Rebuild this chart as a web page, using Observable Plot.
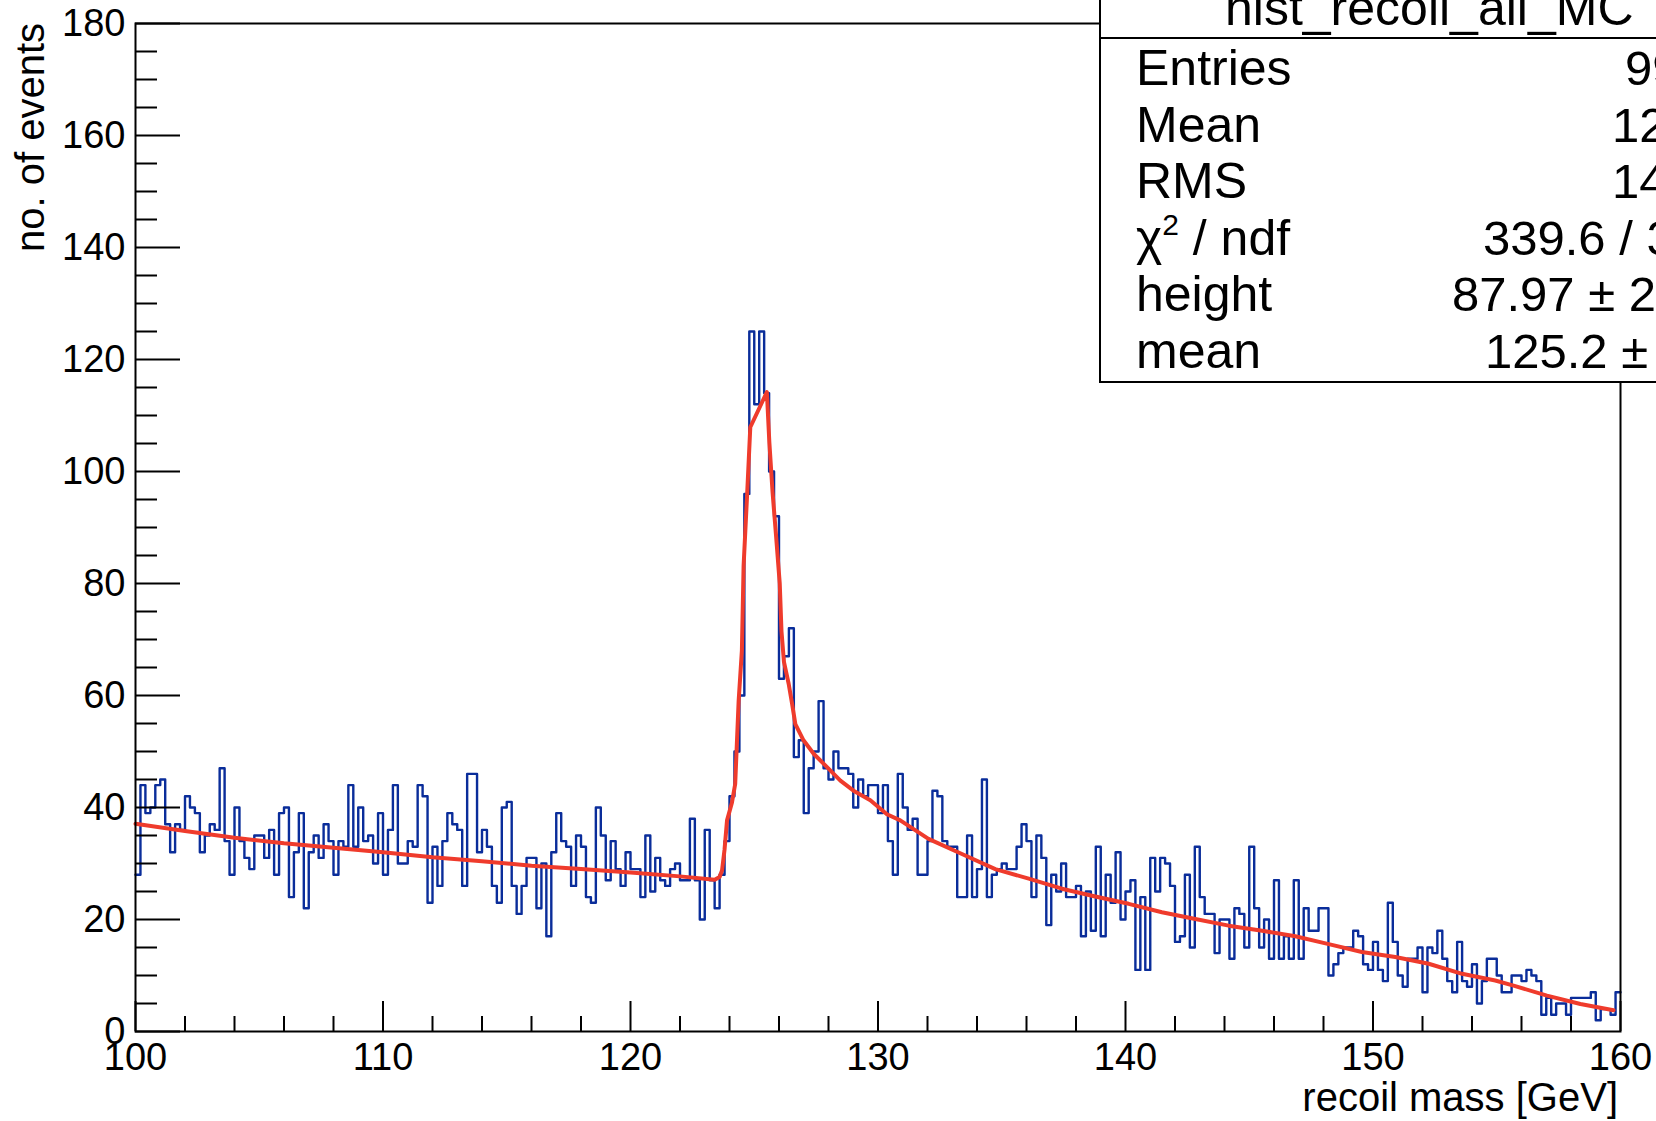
<!DOCTYPE html>
<html><head><meta charset="utf-8">
<script src="https://cdn.jsdelivr.net/npm/d3@7"></script>
<script src="https://cdn.jsdelivr.net/npm/@observablehq/plot@0.6"></script>
<style>html,body{margin:0;padding:0;background:#fff;overflow:hidden;}#chart{width:1656px;height:1121px;overflow:hidden;}svg{display:block;}</style>
</head><body><div id="chart"></div>
<script>
// ---- data ----
const histRange = [100, 160];
const binWidth = 0.2;
const counts = [
 28,44,39,40,44,45,37,32,37,36,
 42,40,39,32,35,37,36,47,34,28,
 40,34,31,29,35,35,31,36,28,39,
 40,24,32,39,22,32,35,31,37,34,
 28,34,33,44,33,40,34,35,30,39,
 28,36,44,30,30,34,33,44,42,23,
 33,26,34,39,37,36,26,46,46,32,
 36,33,26,23,40,41,26,21,26,31,
 31,22,30,17,32,39,34,33,26,35,
 33,24,23,40,35,27,34,29,26,32,
 29,29,24,35,25,31,27,26,29,30,
 27,27,38,27,20,36,27,22,28,34,
 42,50,60,96,125,112,125,114,100,92,
 63,67,72,49,52,39,47,50,59,47,
 45,50,47,47,46,40,45,42,44,44,
 39,44,34,28,46,40,36,38,28,28,
 34,43,42,34,33,33,24,24,35,24,
 29,45,24,28,29,30,29,29,33,37,
 34,24,35,31,19,28,25,30,24,24,
 26,17,25,18,33,17,28,23,32,20,
 25,27,11,24,11,31,25,31,30,26,
 16,17,28,15,33,24,21,21,14,20,
 20,13,22,21,15,33,22,15,20,13,
 27,13,17,13,27,13,22,18,18,22,
 22,10,12,14,15,15,18,17,12,11,
 16,11,9,23,16,10,8,13,13,15,
 7,15,14,18,13,9,7,16,9,8,
 12,5,9,13,13,10,7,7,10,10,
 9,11,10,9,3,6,3,5,5,3,
 6,6,6,6,7,2,4,4,3,7
];
const fitX = [100,102,104,106,108,110,112,114,116,118,120,122,123.4,123.6,123.7,123.8,123.9,124.1,124.23,124.37,124.5,124.57,124.71,124.84,125.51,125.61,125.74,125.88,126.03,126.1,126.2,126.39,126.53,126.66,126.99,127.4,127.94,128.48,129.01,129.69,130.36,130.9,132.04,133.39,134.74,136.09,137.43,138.78,140.13,141.47,142.82,144.17,145.52,146.86,148.21,149.55,150.9,152.25,153.6,154.94,155.68,157.03,158.38,159.72];
const fitY = [37.1,35.8,34.6,33.6,32.8,32.0,31.1,30.4,29.6,29.0,28.4,27.7,27.1,27.6,28.8,32.5,37.7,40.9,44.2,59.1,68,83.2,95.7,107.9,114.2,105.2,96.3,88.6,80,71.5,66,62.1,58.5,54.9,52,49.6,47.2,44.8,43,41.3,38.8,37.7,34.4,31.7,29,27.3,25.5,24.1,22.8,21.3,20.1,18.9,18.0,17.0,15.6,14.2,13.3,12.1,10.3,9.1,8.2,6.4,4.9,3.8];
const xMajorTicks = [100,110,120,130,140,150,160];
const xMinorTicks = [102,104,106,108,112,114,116,118,122,124,126,128,132,134,136,138,142,144,146,148,152,154,156,158];
const yMajorTicks = [0,20,40,60,80,100,120,140,160,180];
const yMinorTicks = [5,10,15,25,30,35,45,50,55,65,70,75,85,90,95,105,110,115,125,130,135,145,150,155,165,170,175];
const xTitle = "recoil mass [GeV]";
const yTitle = "no. of events";
const statsTitle = "hist_recoil_all_MC";
const statsLabels = ["Entries","Mean","RMS","χ2 / ndf","height","mean"];
const statsValues = ["99","12","14","339.6 / 3","87.97 ± 2","125.2 ±"];

// ---- layout ----
const FONT = "'Liberation Sans', Arial, Helvetica, sans-serif";
const BLUE = "#0a2d9a";
const RED = "#ef3b2c";
const W = 1656, H = 1121;
const mL = 135, mR = 36, mT = 23, mB = 90;
const innerW = W - mL - mR, innerH = H - mT - mB;

const hist = counts.map((c, i) => ({x: histRange[0] + binWidth * i, y: c}));
hist.push({x: histRange[1], y: counts[counts.length - 1]});
const fit = fitX.map((x, i) => ({x, y: fitY[i]}));

const plot = Plot.plot({
  width: W, height: H,
  marginLeft: mL, marginRight: mR, marginTop: mT, marginBottom: mB,
  x: {domain: histRange},
  y: {domain: [0, 180]},
  style: {fontFamily: FONT, fontSize: "38px", background: "white", color: "black", overflow: "hidden"},
  marks: [
    Plot.line(hist, {x: "x", y: "y", curve: "step-after", stroke: BLUE, strokeWidth: 2.4}),
    Plot.line(fit, {x: "x", y: "y", stroke: RED, strokeWidth: 4}),
    Plot.ruleX(xMajorTicks, {x: d => d, insetTop: innerH - 30, stroke: "black", strokeWidth: 2}),
    Plot.ruleX(xMinorTicks, {x: d => d, insetTop: innerH - 15, stroke: "black", strokeWidth: 2}),
    Plot.ruleY(yMajorTicks, {y: d => d, insetRight: innerW - 45, stroke: "black", strokeWidth: 2}),
    Plot.ruleY(yMinorTicks, {y: d => d, insetRight: innerW - 22, stroke: "black", strokeWidth: 2}),
    Plot.axisX({ticks: xMajorTicks, tickSize: 0, tickPadding: 12, label: null, fontSize: 38, tickFormat: d => String(d)}),
    Plot.axisY({ticks: yMajorTicks, tickSize: 0, tickPadding: 10, label: null, fontSize: 38, tickFormat: d => String(d)}),
    Plot.frame({stroke: "black", strokeWidth: 2})
  ]
});
document.getElementById("chart").appendChild(plot);

const svg = d3.select(plot);
// axis titles
svg.append("text").attr("transform", `translate(44,${mT}) rotate(-90)`)
  .attr("text-anchor", "end").attr("font-family", FONT).attr("font-size", 40).attr("fill", "black").text(yTitle);
svg.append("text").attr("x", W - mR - 2).attr("y", 1111)
  .attr("text-anchor", "end").attr("font-family", FONT).attr("font-size", 40).attr("fill", "black").text(xTitle);

// stats box
const bx = 1100, bBottom = 382, sep = 38;
const g = svg.append("g").attr("font-family", FONT).attr("fill", "black").attr("text-anchor", "start");
g.append("rect").attr("x", bx).attr("y", -10).attr("width", W - bx + 20).attr("height", bBottom + 10)
  .attr("fill", "white").attr("stroke", "black").attr("stroke-width", 2);
g.append("line").attr("x1", bx).attr("x2", W + 10).attr("y1", sep).attr("y2", sep)
  .attr("stroke", "black").attr("stroke-width", 2);
g.append("text").attr("text-anchor", "start").attr("x", 1225).attr("y", 25).attr("font-size", 50).text(statsTitle);
const valueX = [1625, 1612, 1612, 1483, 1452, 1485];
statsLabels.forEach((lab, i) => {
  const yb = 85 + 56.6 * i;
  const t = g.append("text").attr("text-anchor", "start").attr("x", 1136).attr("y", yb).attr("font-size", 50);
  if (lab.startsWith("χ2")) {
    t.append("tspan").text("χ");
    t.append("tspan").attr("font-size", 30).attr("dy", -20).text("2");
    t.append("tspan").attr("dy", 20).text(" / ndf");
  } else {
    t.text(lab);
  }
  g.append("text").attr("text-anchor", "start").attr("x", valueX[i]).attr("y", yb).attr("font-size", 49).text(statsValues[i]);
});
</script>
</body></html>
